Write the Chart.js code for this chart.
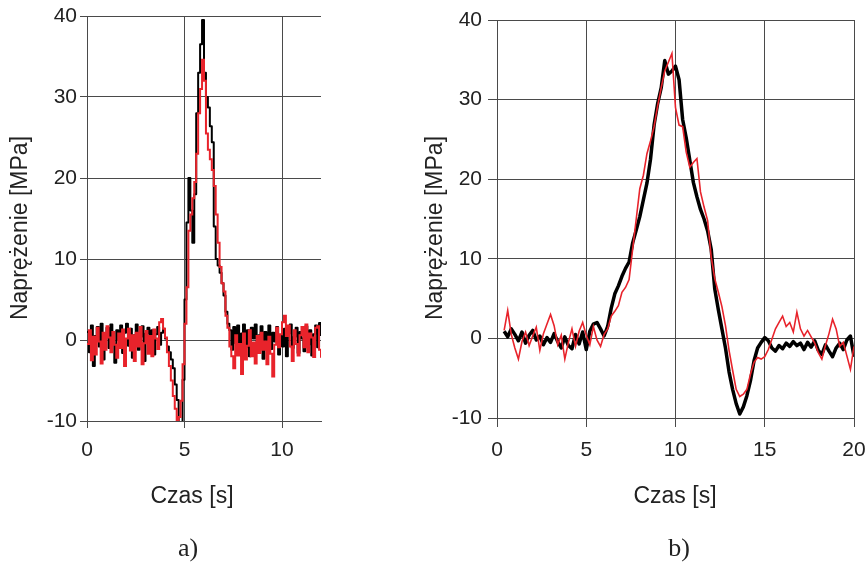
<!DOCTYPE html>
<html>
<head>
<meta charset="utf-8">
<script src="https://cdn.jsdelivr.net/npm/chart.js@4.4.1/dist/chart.umd.min.js"></script>
<style>
  body { margin: 0; background: #fff; }
  #wrap { position: relative; width: 866px; height: 562px; overflow: hidden; }
  canvas { position: absolute; top: 0; }
  #chartA { left: 0; }
  #chartB { left: 420px; }
</style>
</head>
<body>
<div id="wrap">
  <canvas id="chartA" width="420" height="562"></canvas>
  <canvas id="chartB" width="446" height="562"></canvas>
</div>
<script>
// panel a) - time [s]
var timeA = [
  0, 0.1, 0.2, 0.3, 0.4, 0.5, 0.6, 0.7, 0.8, 0.9,
  1, 1.1, 1.2, 1.3, 1.4, 1.5, 1.6, 1.7, 1.8, 1.9,
  2, 2.1, 2.2, 2.3, 2.4, 2.5, 2.6, 2.7, 2.8, 2.9,
  3, 3.1, 3.2, 3.3, 3.4, 3.5, 3.6, 3.7, 3.8, 3.9,
  4, 4.1, 4.2, 4.3, 4.4, 4.5, 4.6, 4.7, 4.8, 4.9,
  5, 5.1, 5.2, 5.3, 5.4, 5.5, 5.6, 5.7, 5.8, 5.9,
  6, 6.1, 6.2, 6.3, 6.4, 6.5, 6.6, 6.7, 6.8, 6.9,
  7, 7.1, 7.2, 7.3, 7.4, 7.5, 7.6, 7.7, 7.8, 7.9,
  8, 8.1, 8.2, 8.3, 8.4, 8.5, 8.6, 8.7, 8.8, 8.9,
  9, 9.1, 9.2, 9.3, 9.4, 9.5, 9.6, 9.7, 9.8, 9.9,
  10, 10.1, 10.2, 10.3, 10.4, 10.5, 10.6, 10.7, 10.8, 10.9,
  11, 11.1, 11.2, 11.3, 11.4, 11.5, 11.6, 11.7, 11.8, 11.9,
  12
];
// panel a) - stress [MPa], black trace
var blackA = [
  1.0, -1.5, 1.8, -3.2, 0.5, 1.6, -0.8, 2.0, -2.4, 0.3,
  1.5, -1.0, 1.9, -0.5, -2.8, 1.2, 0.0, 1.8, -1.6, 0.9,
  2.0, -0.7, 1.4, -2.2, 0.6, 1.9, -1.2, 0.4, 1.7, -2.6,
  0.8, 1.5, -0.9, 1.2, -1.8, 0.7, 1.6, -0.6, 0.9, 1.4,
  0.2, -0.8, -1.5, -2.4, -3.5, -5.5, -7.4, -10.2, -10.2, -4.9,
  5.0, 14.5, 20.0, 16.0, 12.0, 18.0, 28.0, 33.0, 36.5, 39.5,
  33.0, 30.0, 28.7, 26.4, 24.4, 14.0, 10.0, 9.2, 8.3, 7.0,
  5.5, 3.5, 2.0, 1.2, -1.2, 1.6, -0.4, 1.8, -1.5, 0.8,
  1.9, -0.9, 1.2, -2.0, 1.5, 0.2, 1.9, -1.4, 0.6, 1.7,
  -2.3, 1.0, 0.0, 1.8, -1.1, 0.9, -0.2, 1.6, -1.8, 0.5,
  -0.8, 1.4, -2.0, 0.8, 1.9, -1.0, 0.4, 1.5, -1.6, 1.0,
  0.2, -1.4, 1.7, -0.6, 1.2, -1.9, 0.7, 1.8, -0.9, 2.1,
  0.5
];
// panel a) - stress [MPa], red trace
var redA = [
  -0.5, 1.2, -2.5, 0.4, -1.8, 1.5, -0.2, -2.9, 0.9, -1.2,
  1.7, 0.3, -1.5, 1.0, -0.6, -2.2, 0.8, -1.0, 1.3, -3.2,
  0.2, 1.4, -1.3, 0.6, -2.6, 0.9, -0.8, 1.6, -3.0, -0.4,
  1.1, -1.7, 0.5, -2.0, 1.3, 0.2, -1.1, 2.2, 2.6, 1.4,
  0.3, -1.5, -3.2, -5.0, -6.9, -8.5, -9.9, -9.5, -7.5, -3.0,
  2.0, 6.5, 13.5, 15.5, 17.5, 19.5, 23.0, 28.0, 31.0, 34.6,
  32.0, 25.5, 23.5, 22.3, 21.0, 19.0, 15.5, 12.0, 9.0, 7.0,
  6.0, 3.0, 1.5, -0.8, -2.0, -3.5, 0.6, -1.9, -0.5, -4.2,
  0.8, -2.4, -0.7, 1.2, -2.0, -0.3, -2.9, 0.5, -1.6, 0.9,
  -1.2, -0.2, -3.0, 0.4, -1.7, -4.5, -0.6, 1.5, -0.9, 0.7,
  2.2, 3.0, 0.5, 1.8, -0.8, -2.6, 1.2, -0.5, -1.9, 0.6,
  1.6, -0.9, 1.9, -1.5, 0.8, 0.3, -2.1, 1.5, 1.7, -1.2,
  -2.2
];

// panel b) - time [s]
var timeB = [
  0.4, 0.6, 0.8, 1, 1.2, 1.4, 1.6, 1.8, 2, 2.2,
  2.4, 2.6, 2.8, 3, 3.2, 3.4, 3.6, 3.8, 4, 4.2,
  4.4, 4.6, 4.8, 5, 5.2, 5.4, 5.6, 5.8, 6, 6.2,
  6.4, 6.6, 6.8, 7, 7.2, 7.4, 7.6, 7.8, 8, 8.2,
  8.4, 8.6, 8.8, 9, 9.2, 9.4, 9.6, 9.8, 10, 10.2,
  10.4, 10.6, 10.8, 11, 11.2, 11.4, 11.6, 11.8, 12, 12.2,
  12.4, 12.6, 12.8, 13, 13.2, 13.4, 13.6, 13.8, 14, 14.2,
  14.4, 14.6, 14.8, 15, 15.2, 15.4, 15.6, 15.8, 16, 16.2,
  16.4, 16.6, 16.8, 17, 17.2, 17.4, 17.6, 17.8, 18, 18.2,
  18.4, 18.6, 18.8, 19, 19.2, 19.4, 19.6, 19.8, 20
];
var blackB = [
  0.9, 0.2, 1.2, 0.5, -0.3, 0.8, -0.6, 0.4, 1.0, -0.2,
  0.3, -0.8, 0.1, -0.5, 0.6, -0.4, -1.2, 0.2, -0.9, -1.3,
  0.5, -0.7, 0.8, -1.4, 0.9, 1.8, 2.0, 1.2, 0.3, 1.5,
  3.8, 5.6, 6.6, 7.8, 8.8, 9.6, 12.0, 13.6, 15.3, 17.4,
  19.5, 22.5, 26.8, 29.5, 31.5, 34.9, 33.2, 33.6, 34.2, 32.5,
  27.5, 25.2, 22.4, 19.6, 17.8, 16.2, 15.0, 13.5, 11.2, 6.2,
  3.6, 1.2, -1.2, -4.2, -6.4, -8.2, -9.5, -8.6, -7.2, -5.3,
  -2.8, -1.2, -0.5, 0.1, -0.3, -1.2, -1.6, -0.9, -1.3, -0.6,
  -1.0, -0.4, -0.9, -0.6, -1.4, -0.5, -1.1, -0.3, -1.5, -2.0,
  -0.8, -1.6, -2.3, -1.2, -0.6, -1.4, -0.2, 0.3, -2.3
];
var redB = [
  1.0, 3.5, 0.5, -1.2, -2.6, -0.4, 0.8, -0.9, 0.3, 1.4,
  -1.5, 0.6, 1.8, 3.0, 1.6, -0.8, 0.4, -2.6, -0.5, 1.2,
  -1.0, 0.9, 2.0, 0.4, -0.8, 1.5, -0.2, -1.0, 0.5, 1.2,
  2.8, 3.4, 4.1, 5.8, 6.4, 7.4, 11.2, 15.0, 18.8, 20.5,
  23.2, 24.8, 26.6, 29.2, 31.5, 33.6, 34.7, 35.8, 29.0, 26.8,
  26.6, 23.4, 21.5, 22.1, 22.6, 18.4, 16.5, 14.8, 10.2, 7.5,
  5.8, 4.0, 1.6, -1.5, -4.0, -6.4, -7.3, -7.0, -6.4, -4.5,
  -3.0, -2.4, -2.6, -2.3, -1.4, -0.1, 1.2, 2.0, 2.8, 1.5,
  2.0, 0.8, 3.3, 1.2, 0.3, 1.0, 0.2, -0.6, -1.8, -2.6,
  -0.9, 0.6, 2.4, 1.2, -1.0, -0.5, -2.2, -3.9, -1.0
];

var yTicks = [-10, 0, 10, 20, 30, 40];

var GRID = '#4a4a4a';
var TEXT = '#222';
var SANS = '"Liberation Sans", Arial, sans-serif';
var SERIF = '"Liberation Serif", "Times New Roman", serif';

function points(xs, ys) {
  return xs.map(function(x, i) { return {x: x, y: ys[i]}; });
}

// free-standing captions (axis titles and panel letter)
var captionPlugin = {
  id: 'captions',
  afterDraw: function(chart, args, opts) {
    var ctx = chart.ctx;
    opts.items.forEach(function(it) {
      ctx.save();
      ctx.font = it.font;
      ctx.fillStyle = TEXT;
      ctx.textAlign = 'center';
      ctx.textBaseline = 'middle';
      ctx.translate(it.x, it.y);
      if (it.rotate) ctx.rotate(-Math.PI / 2);
      ctx.fillText(it.text, 0, 0);
      ctx.restore();
    });
  }
};

function makeChart(id, s) {
  return new Chart(document.getElementById(id), {
    type: 'line',
    data: {
      datasets: [
        {
          data: points(s.time, s.black),
          borderColor: '#000',
          borderWidth: s.blackWidth,
          stepped: s.stepped,
          borderJoinStyle: 'round',
          pointRadius: 0,
          order: 1
        },
        {
          data: points(s.time, s.red),
          borderColor: '#e8232b',
          borderWidth: s.redWidth,
          stepped: s.stepped,
          pointRadius: 0,
          order: 0
        }
      ]
    },
    options: {
      responsive: false,
      animation: false,
      events: [],
      layout: { padding: s.padding },
      plugins: {
        legend: { display: false },
        tooltip: { enabled: false },
        captions: { items: s.captions }
      },
      scales: {
        x: {
          type: 'linear',
          min: 0,
          max: s.xMax,
          ticks: {
            stepSize: 5,
            includeBounds: false,
            maxRotation: 0,
            padding: s.xPad,
            color: TEXT,
            font: { family: SANS, size: 21 }
          },
          grid: { color: GRID, lineWidth: 1, tickLength: s.xTick, tickColor: GRID },
          border: { color: GRID, width: 1 },
          afterFit: function(scale) {
            scale.height = s.xHeight;
            scale.paddingLeft = 0;
            scale.paddingRight = 0;
          }
        },
        y: {
          min: -10,
          max: 40,
          afterBuildTicks: function(scale) {
            scale.ticks = yTicks.map(function(v) { return {value: v}; });
          },
          ticks: {
            padding: s.yPad,
            color: TEXT,
            font: { family: SANS, size: 21 }
          },
          grid: { color: GRID, lineWidth: 1, tickLength: s.yTick, tickColor: GRID },
          border: { color: GRID, width: 1 },
          afterFit: function(scale) {
            scale.width = s.yWidth;
            scale.paddingTop = 0;
            scale.paddingBottom = 0;
          }
        }
      }
    },
    plugins: [captionPlugin]
  });
}

makeChart('chartA', {
  time: timeA, black: blackA, red: redA,
  blackWidth: 2, redWidth: 2, stepped: true,
  xMax: 12,
  padding: { left: 0, right: 99, top: 16, bottom: 0 },
  yWidth: 87, xHeight: 141,
  xTick: 7, xPad: 10, yTick: 7, yPad: 3,
  captions: [
    { text: 'Naprężenie [MPa]', x: 21, y: 228, rotate: true, font: '23px ' + SANS },
    { text: 'Czas [s]', x: 192, y: 497, font: '23px ' + SANS },
    { text: 'a)', x: 188, y: 549, font: '26px ' + SERIF }
  ]
});

makeChart('chartB', {
  time: timeB, black: blackB, red: redB,
  blackWidth: 3.5, redWidth: 1.6, stepped: false,
  xMax: 20,
  padding: { left: 0, right: 12, top: 20, bottom: 0 },
  yWidth: 77, xHeight: 144,
  xTick: 9, xPad: 11, yTick: 9, yPad: 6,
  captions: [
    { text: 'Naprężenie [MPa]', x: 16, y: 228, rotate: true, font: '23px ' + SANS },
    { text: 'Czas [s]', x: 255, y: 497, font: '23px ' + SANS },
    { text: 'b)', x: 259, y: 549, font: '26px ' + SERIF }
  ]
});
</script>
</body>
</html>
